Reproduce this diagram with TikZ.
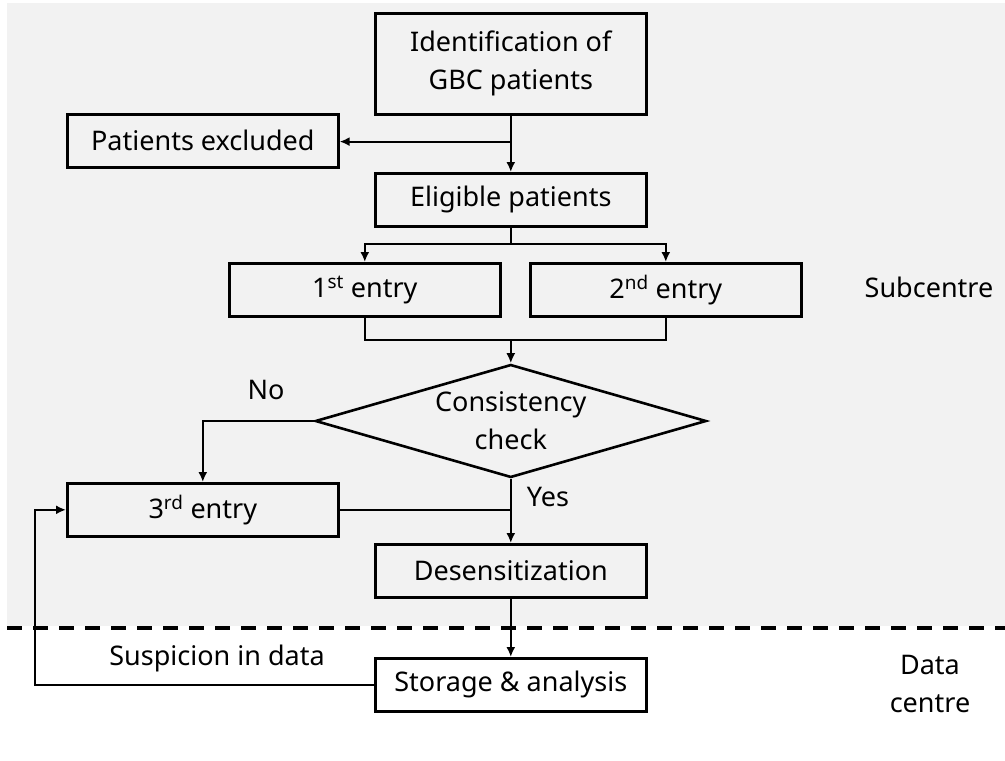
\documentclass[tikz,border=0pt]{standalone}
\usepackage{fontspec}
\setmainfont{Noto Sans}
\usetikzlibrary{shapes.geometric,arrows.meta}
\begin{document}
\begin{tikzpicture}[x=1pt,y=-1pt,
  box/.style={draw,line width=2.6pt,minimum width=271pt,minimum height=53pt,inner sep=0pt,font=\fontsize{27}{38}\selectfont,align=center,anchor=north west},
  lbl/.style={font=\fontsize{27}{38}\selectfont,align=center},
  con/.style={line width=2.2pt},
  arr/.style={con,-{Latex[length=10pt,width=9pt]}}]
\useasboundingbox (0,0) rectangle (1005,761);
\fill[gray!10] (7,3) rectangle (1005,626);
\draw[line width=4pt,dash pattern=on 15pt off 11pt] (7,628) -- (1005,628);
\node[box,minimum height=101pt] (ident) at (374,12) {Identification of\\GBC patients};
\node[box] (excl) at (66,113) {Patients excluded};
\node[box] (elig) at (374,172) {Eligible patients};
\node[box] (e1) at (228,262) {1\textsuperscript{st} entry};
\node[box] (e2) at (529,262) {2\textsuperscript{nd} entry};
\coordinate (cy) at (0,421);
\node[draw,diamond,line width=2.6pt,minimum width=391pt,minimum height=113pt,inner sep=0pt,aspect=3.46,font=\fontsize{27}{38}\selectfont,align=center] (cons) at (elig.south |- cy) {Consistency\\check};
\node[box] (e3) at (66,482) {3\textsuperscript{rd} entry};
\node[box] (des) at (374,543) {Desensitization};
\node[box] (stor) at (374,657) {Storage \& analysis};
\coordinate (b1) at ([yshift=-26pt]ident.south);
\coordinate (b2) at ([yshift=-16pt]elig.south);
\coordinate (b3) at ([yshift=23pt]cons.north);
\coordinate (b4) at (cons.south |- e3.east);
\draw[arr] (ident.south) -- (elig.north);
\draw[arr] (b1) -- (b1 -| excl.east);
\draw[con] (elig.south) -- (b2);
\draw[arr] (b2) -| (e1.north);
\draw[arr] (b2) -| (e2.north);
\draw[con] (e1.south) |- (b3) -| (e2.south);
\draw[arr] (b3) -- (cons.north);
\draw[arr] (cons.west) -| (e3.north);
\draw[arr] (cons.south) -- (des.north);
\draw[con] (e3.east) -- (b4);
\draw[arr] (des.south) -- (stor.north);
\coordinate (fbx) at (35,0);
\draw[arr] (stor.west) -- (stor.west -| fbx) |- (e3.west);
\node[lbl] (no) at (266,390) {No};
\node[lbl] (yes) at (548,497) {Yes};
\node[lbl] (susp) at (217,658) {Suspicion in data};
\node[lbl] (sub) at (929,287) {Subcentre};
\node[lbl] (dc) at (930,684) {Data\\centre};
\end{tikzpicture}
\end{document}
